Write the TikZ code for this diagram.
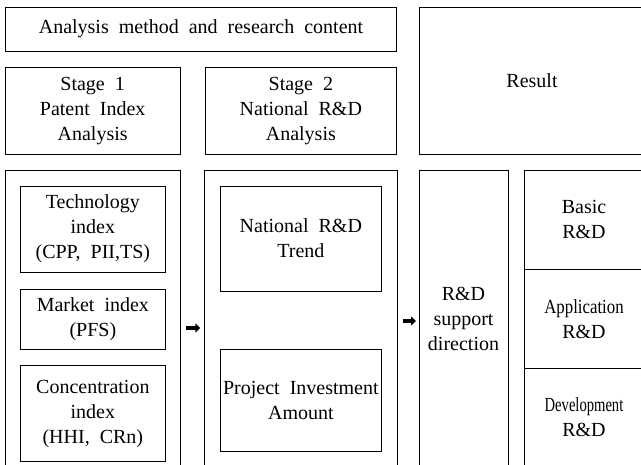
\documentclass[tikz,border=0pt]{standalone}
\usepackage{fontspec}
\usepackage{graphicx}
\setmainfont{Liberation Serif}
\usetikzlibrary{arrows.meta}
\newcommand\diagfont{\fontsize{20}{25}\selectfont\spaceskip=0.5em plus 0.1em\relax}
\tikzset{
  base/.style={x=1pt,y=-1pt},
  txt/.style={align=center,inner sep=0pt,outer sep=0pt,font=\diagfont},
  boxed/.style={txt,draw,line width=0.8pt},
  cell/.style={txt,draw=none},
  frame/.style={line width=0.8pt},
  fatarrow/.style={line width=4pt,-{Triangle[length=5pt,width=9pt]}}
}
\begin{document}
\begin{tikzpicture}[base]
\useasboundingbox (0,0) rectangle (641,465);
% top row
\node[boxed,minimum width=391.4pt,minimum height=43.7pt] (head) at (201,29.2) {Analysis method and research content};
\node[boxed,minimum width=174.7pt,minimum height=86.3pt] (s1) at (92.65,110.85) {Stage 1\\Patent Index\\Analysis};
\node[boxed,minimum width=191.7pt,minimum height=86.3pt] (s2) at (300.85,110.85) {Stage 2\\National R\&D\\Analysis};
\node[cell,minimum width=226pt,minimum height=146.7pt] (res) at (532,80.65) {Result};
\draw[frame] (res.north east) -| (res.south west) -- (res.south east);
% lower panels
\node[cell,minimum width=174.7pt,minimum height=297pt] (p1) at (92.65,318.5) {};
\draw[frame] (p1.south west) |- (p1.north east) -- (p1.south east);
\node[cell,minimum width=192.7pt,minimum height=297pt] (p2) at (300.65,318.5) {};
\draw[frame] (p2.south west) |- (p2.north east) -- (p2.south east);
\node[cell,minimum width=89pt,minimum height=297pt] (p3) at (463.5,318.5) {R\&D\\support\\direction};
\draw[frame] (p3.south west) |- (p3.north east) -- (p3.south east);
% result column
\node[cell,minimum width=120pt,minimum height=99.3pt] (basic) at (584,219.65) {Basic\\R\&D};
\node[cell,minimum width=120pt,minimum height=99pt] (appl) at (584,318.8) {\scalebox{0.84}[1]{Application}\\R\&D};
\node[cell,minimum width=120pt,minimum height=97.7pt] (devel) at (584,417.15) {\scalebox{0.73}[1]{Development}\\R\&D};
\draw[frame] (devel.south west) |- (basic.north east);
\draw[frame] (basic.south west) -- (basic.south east);
\draw[frame] (appl.south west) -- (appl.south east);
% stage 1 inner boxes
\node[boxed,minimum width=144.3pt,minimum height=86.3pt] (tech) at (92.85,229.15) {Technology\\index\\(CPP, PII,TS)};
\node[boxed,minimum width=144.3pt,minimum height=60.3pt] (market) at (92.85,319.15) {Market index\\(PFS)};
\node[boxed,minimum width=144.3pt,minimum height=96pt] (conc) at (92.85,413.7) {Concentration\\index\\(HHI, CRn)};
% stage 2 inner boxes
\node[boxed,minimum width=161.7pt,minimum height=105pt] (trend) at (300.85,238.5) {National R\&D\\Trend};
\node[boxed,minimum width=161.7pt,minimum height=102.7pt] (invest) at (300.85,400.35) {Project Investment\\Amount};
% arrows
\draw[fatarrow,shorten <=6pt,shorten >=4pt] (p1.east |- 0,328) -- (p2.west |- 0,328);
\draw[fatarrow,shorten <=6pt,shorten >=3pt] (p2.east |- 0,321) -- (p3.west |- 0,321);
\end{tikzpicture}
\end{document}
